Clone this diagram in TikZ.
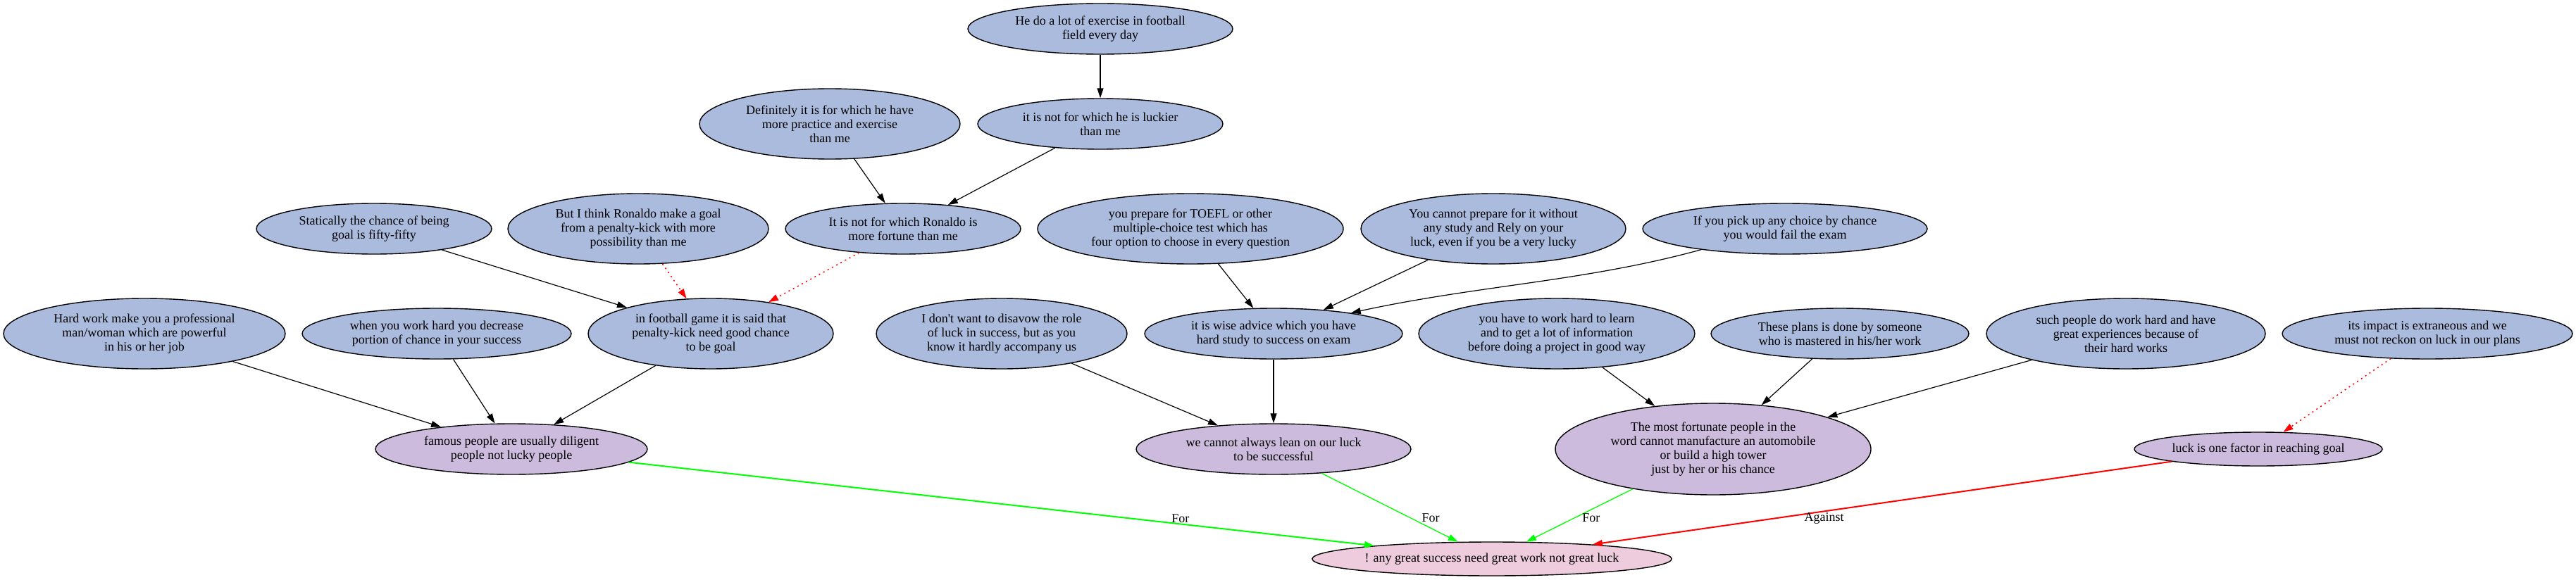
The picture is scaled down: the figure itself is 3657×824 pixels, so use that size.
\documentclass[tikz,border=0pt]{standalone}
\usepackage{fontspec}
\setmainfont{Liberation Serif}
\usetikzlibrary{shapes.geometric,arrows.meta}
\definecolor{cblue}{HTML}{AABBDD}
\definecolor{cpurp}{HTML}{CCBBDD}
\definecolor{cpink}{HTML}{EECCDD}
\definecolor{cgreen}{HTML}{00FF00}
\definecolor{cred}{HTML}{FF0000}
\begin{document}
\begin{tikzpicture}[x=1pt,y=-1pt,
  every node/.style={font=\fontsize{18}{20}\selectfont},
  base/.style={ellipse,draw=black,line width=1.4pt,inner sep=0pt,align=center},
  bn/.style={base,fill=cblue},
  pn/.style={base,fill=cpurp},
  kn/.style={base,fill=cpink},
  sz/.style 2 args={minimum width=#1*2pt,minimum height=#2*2pt},
  edge/.style={line width=1.2pt,-{Triangle[length=14pt,width=9pt]}},
  attack/.style={draw=cred,line width=1.5pt,dash pattern=on 2pt off 5pt,-{Triangle[length=14pt,width=9pt,fill=cred]}},
  pro/.style={draw=cgreen,-{Triangle[length=14pt,width=9pt,fill=cgreen]}},
  con/.style={draw=cred,line width=2pt,-{Triangle[length=14pt,width=9pt,fill=cred]}},
  lbl/.style={font=\fontsize{18}{20}\selectfont,inner sep=0pt}
]
\useasboundingbox (0,0) rectangle (3657,824);

\node[bn,sz={188}{36}] (n1) at (1562,41) {He do a lot of exercise in football\\field every day};
\node[bn,sz={174}{36}] (n2) at (1562,176) {it is not for which he is luckier\\than me};
\node[bn,sz={185}{50}] (n3) at (1178,176) {Definitely it is for which he have\\more practice and exercise\\than me};
\node[bn,sz={167}{36}] (n4) at (1282,325) {It is not for which Ronaldo is\\more fortune than me};
\node[bn,sz={167}{36}] (n5) at (531,325) {Statically the chance of being\\goal is fifty-fifty};
\node[bn,sz={185}{50}] (n6) at (906,325) {But I think Ronaldo make a goal\\from a penalty-kick with more\\possibility than me};
\node[bn,sz={217}{50}] (n7) at (1690,325) {you prepare for TOEFL or other\\multiple-choice test which has\\four option to choose in every question};
\node[bn,sz={188}{50}] (n8) at (2120,325) {You cannot prepare for it without\\any study and Rely on your\\luck, even if you be a very lucky};
\node[bn,sz={202}{36}] (n9) at (2534,325) {If you pick up any choice by chance\\you would fail the exam};
\node[bn,sz={200}{50}] (n10) at (205,474) {Hard work make you a professional\\man/woman which are powerful\\in his or her job};
\node[bn,sz={191}{36}] (n11) at (620,474) {when you work hard you decrease\\portion of chance in your success};
\node[bn,sz={174}{50}] (n12) at (1009,474) {in football game it is said that\\penalty-kick need good chance\\to be goal};
\node[bn,sz={178}{50}] (n13) at (1422,474) {I don\textquotesingle t want to disavow the role\\of luck in success, but as you\\know it hardly accompany us};
\node[bn,sz={183}{36}] (n14) at (1808,474) {it is wise advice which you have\\hard study to success on exam};
\node[bn,sz={196}{50}] (n15) at (2210,474) {you have to work hard to learn\\and to get a lot of information\\before doing a project in good way};
\node[bn,sz={183}{36}] (n16) at (2612,474) {These plans is done by someone\\who is mastered in his/her work};
\node[bn,sz={198}{50}] (n17) at (3018,474) {such people do work hard and have\\great experiences because of\\their hard works};
\node[bn,sz={206}{36}] (n18) at (3446,474) {its impact is extraneous and we\\must not reckon on luck in our plans};
\node[pn,sz={193}{36}] (n19) at (726,638) {famous people are usually diligent\\people not lucky people};
\node[pn,sz={195}{36}] (n20) at (1808,638) {we cannot always lean on our luck\\to be successful};
\node[pn,sz={224}{65}] (n21) at (2432,638) {The most fortunate people in the\\word cannot manufacture an automobile\\or build a high tower\\just by her or his chance};
\node[pn,sz={176}{24}] (n22) at (3206,638) {luck is one factor in reaching goal};
\node[kn,sz={252}{24}] (n23) at (2118,794) {! any great success need great work not great luck};

\draw[edge] (n1) -- (n2);
\draw[edge] (n3) -- (n4);
\draw[edge] (n2) -- (n4);
\draw[attack] (n6) -- (n12);
\draw[attack] (n4) -- (n12);
\draw[edge] (n5) -- (n12);
\draw[edge] (n7) -- (n14);
\draw[edge] (n8) -- (n14);
\draw[edge] (n9.194) .. controls (2250,400) and (2100,405) .. (n14.15);
\draw[edge] (n10) -- (n19);
\draw[edge] (n11) -- (n19);
\draw[edge] (n12) -- (n19);
\draw[edge] (n13) -- (n20);
\draw[edge] (n14) -- (n20);
\draw[edge] (n15) -- (n21);
\draw[edge] (n16) -- (n21);
\draw[edge] (n17) -- (n21);
\draw[attack] (n18) -- (n22);
\draw[pro,line width=2pt] (n19) -- node[lbl,pos=0.74,yshift=8pt] {For} (n23);
\draw[pro,line width=1.3pt] (n20) -- node[lbl,pos=0.65,xshift=29pt] {For} (n23);
\draw[pro,line width=1.3pt] (n21) -- node[lbl,pos=0.55,xshift=24pt] {For} (n23);
\draw[con] (n22) -- node[lbl,pos=0.6,yshift=-10pt] {Against} (n23);
\end{tikzpicture}
\end{document}
